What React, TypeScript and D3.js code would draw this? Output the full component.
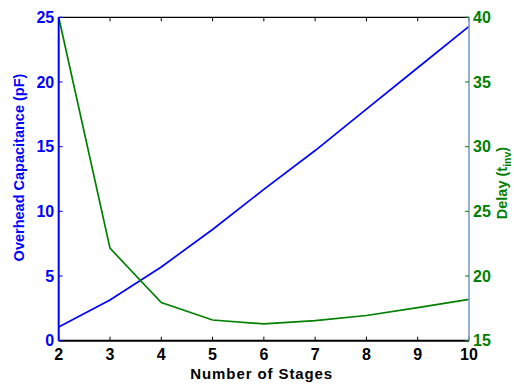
import React from "react";
import * as d3 from "d3";

// values
const stages = [2, 3, 4, 5, 6, 7, 8, 9, 10];
const capacitance = [1.05, 3.15, 5.7, 8.6, 11.7, 14.7, 17.9, 21.1, 24.3];
const delay = [40, 22.15, 17.95, 16.6, 16.3, 16.55, 16.95, 17.55, 18.2];

const leftTicks = [0, 5, 10, 15, 20, 25];
const rightTicks = [15, 20, 25, 30, 35, 40];
const xTicks = [2, 3, 4, 5, 6, 7, 8, 9, 10];

const W = 514;
const H = 385;
const box = { left: 58.7, right: 469, top: 17.3, bottom: 340.7 };

const BLUE = "#0000ff";
const GREEN = "#008000";
const font = "'Liberation Sans', Arial, Helvetica, sans-serif";

export default function App() {
  const x = d3.scaleLinear().domain([2, 10]).range([box.left, box.right]);
  const yL = d3.scaleLinear().domain([0, 25]).range([box.bottom, box.top]);
  const yR = d3.scaleLinear().domain([15, 40]).range([box.bottom, box.top]);

  const capLine = d3
    .line<number>()
    .x((d, i) => x(stages[i]))
    .y((d) => yL(d));
  const delayLine = d3
    .line<number>()
    .x((d, i) => x(stages[i]))
    .y((d) => yR(d));

  const tick = 4;

  return (
    <svg
      width={W}
      height={H}
      style={{ position: "absolute", left: 0, top: 0, background: "#fff" }}
      fontFamily={font}
      fontWeight="bold"
    >
      <rect x={0} y={0} width={W} height={H} fill="#fff" />

      {/* top & bottom axis lines */}
      <line x1={box.left} x2={box.right} y1={box.top} y2={box.top} stroke="#000" strokeWidth={1.2} />
      <line x1={box.left} x2={box.right} y1={box.bottom} y2={box.bottom} stroke="#000" strokeWidth={2} />

      {/* x ticks (top and bottom, inward) */}
      {xTicks.map((t) => (
        <g key={"x" + t}>
          <line x1={x(t)} x2={x(t)} y1={box.bottom} y2={box.bottom - tick} stroke="#000" strokeWidth={1} />
          <line x1={x(t)} x2={x(t)} y1={box.top} y2={box.top + tick} stroke="#000" strokeWidth={1} />
          <text x={x(t)} y={359.5} textAnchor="middle" fontSize={16} fill="#000">
            {t}
          </text>
        </g>
      ))}

      {/* data */}
      <path d={capLine(capacitance) || ""} fill="none" stroke={BLUE} strokeWidth={1.7} />
      <path d={delayLine(delay) || ""} fill="none" stroke={GREEN} strokeWidth={1.7} />

      {/* left axis */}
      <line x1={box.left} x2={box.left} y1={box.top} y2={box.bottom} stroke={BLUE} strokeWidth={2} />
      {leftTicks.map((t) => (
        <g key={"l" + t}>
          <line x1={box.left} x2={box.left + tick} y1={yL(t)} y2={yL(t)} stroke={BLUE} strokeWidth={1} />
          <text x={box.left - 4.5} y={yL(t)} dy="0.36em" textAnchor="end" fontSize={16} fill={BLUE}>
            {t}
          </text>
        </g>
      ))}

      {/* right axis */}
      <line x1={box.right} x2={box.right} y1={box.top} y2={box.bottom} stroke="#7f9ccc" strokeWidth={1.6} />
      {rightTicks.map((t) => (
        <g key={"r" + t}>
          <line x1={box.right} x2={box.right - tick} y1={yR(t)} y2={yR(t)} stroke={GREEN} strokeWidth={1} />
          <text x={box.right + 4} y={yR(t)} dy="0.36em" textAnchor="start" fontSize={16} fill={GREEN}>
            {t}
          </text>
        </g>
      ))}

      {/* axis titles */}
      <text x={261.7} y={379} textAnchor="middle" fontSize={15} fill="#000" letterSpacing={0.9}>
        Number of Stages
      </text>
      <text
        transform={`translate(24,167.5) rotate(-90)`}
        textAnchor="middle"
        fontSize={14.5}
        fill={BLUE}
      >
        Overhead Capacitance (pF)
      </text>
      <text
        transform={`translate(507,183) rotate(-90)`}
        textAnchor="middle"
        fontSize={14.5}
        fill={GREEN}
      >
        Delay (t
        <tspan fontSize={10.5} dy={3.5}>
          inv
        </tspan>
        <tspan dy={-3.5}>)</tspan>
      </text>
    </svg>
  );
}
